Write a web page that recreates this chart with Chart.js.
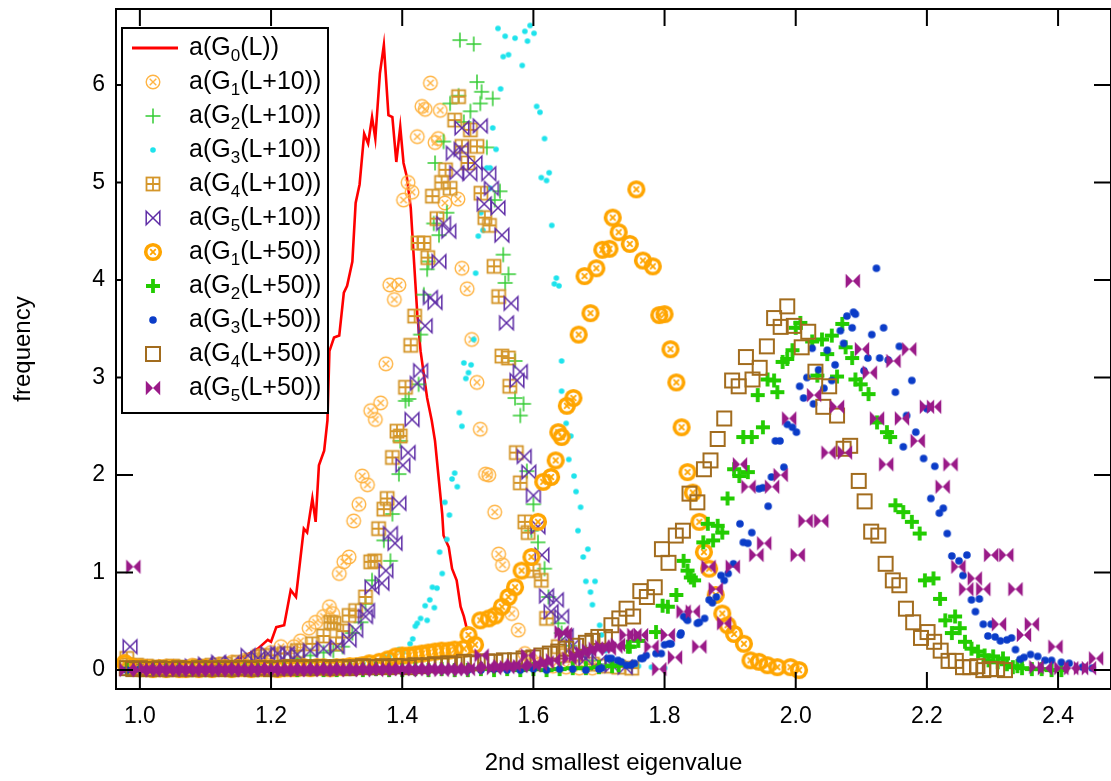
<!DOCTYPE html>
<html>
<head>
<meta charset="utf-8">
<title>2nd smallest eigenvalue</title>
<script src="https://cdn.jsdelivr.net/npm/chart.js@4/dist/chart.umd.min.js"></script>
<style>
  html, body { margin: 0; padding: 0; background: #fff; overflow: hidden; }
  #wrap { width: 1111px; height: 781px; overflow: hidden; position: relative; }
  canvas { display: block; }
</style>
</head>
<body>
<div id="wrap"><canvas id="eigenChart" width="1120" height="781"></canvas></div>
<script>
const FONT = "'Liberation Sans', Arial, sans-serif";

const xTicks = [1.0, 1.2, 1.4, 1.6, 1.8, 2.0, 2.2, 2.4];
const yTicks = [0, 1, 2, 3, 4, 5, 6];

// a(G0(L)) - drawn as a line
const g0L = [[0.975,0.02],[1.0,0.01],[1.03,0.02],[1.06,0.01],[1.09,0.03],[1.12,0.05],[1.14,0.08],[1.159,0.14],[1.18,0.22],[1.195,0.31],[1.2,0.29],[1.208,0.44],[1.22,0.46],[1.23,0.82],[1.238,0.75],[1.25,1.45],[1.255,1.41],[1.263,1.76],[1.268,1.52],[1.273,2.10],[1.281,2.25],[1.286,2.56],[1.289,3.27],[1.296,3.41],[1.304,3.43],[1.311,3.87],[1.316,3.94],[1.324,4.19],[1.329,4.79],[1.335,4.98],[1.342,5.50],[1.348,5.40],[1.354,5.67],[1.359,5.45],[1.366,6.12],[1.372,6.41],[1.379,5.69],[1.385,5.67],[1.391,5.21],[1.397,5.57],[1.402,5.20],[1.407,5.06],[1.413,4.74],[1.418,4.19],[1.423,3.65],[1.428,3.27],[1.438,2.79],[1.445,2.56],[1.45,2.35],[1.456,1.94],[1.461,1.60],[1.463,1.38],[1.471,1.26],[1.476,1.04],[1.483,0.92],[1.489,0.65],[1.494,0.55],[1.499,0.41]];

// L+10 histograms
const g1L10 = [[0.977,0.09],[0.99,0.05],[1.0,0.04],[1.02,0.03],[1.04,0.04],[1.06,0.03],[1.08,0.05],[1.1,0.04],[1.12,0.06],[1.14,0.08],[1.16,0.1],[1.175,0.12],[1.185,0.15],[1.2,0.18],[1.215,0.24],[1.235,0.24],[1.245,0.3],[1.258,0.43],[1.268,0.49],[1.28,0.55],[1.289,0.65],[1.294,0.58],[1.304,0.99],[1.311,1.11],[1.319,1.16],[1.326,1.53],[1.334,1.70],[1.339,1.99],[1.347,1.90],[1.352,2.66],[1.359,2.57],[1.367,2.74],[1.375,3.14],[1.381,3.95],[1.388,3.80],[1.395,3.95],[1.402,4.82],[1.409,5.00],[1.415,4.90],[1.423,5.47],[1.430,5.78],[1.435,5.75],[1.443,6.02],[1.450,5.41],[1.455,5.45],[1.458,5.74],[1.465,4.79],[1.485,4.83],[1.491,4.12],[1.499,3.91],[1.506,3.39],[1.514,2.95],[1.519,2.47],[1.527,2.01],[1.532,2.0],[1.541,1.62],[1.547,1.19],[1.553,1.08],[1.567,0.58],[1.577,0.41],[1.587,0.17],[1.597,0.1],[1.61,0.06],[1.63,0.04],[1.65,0.03],[1.67,0.02],[1.69,0.02]];

const g2L10 = [[0.98,0.03],[1.0,0.02],[1.02,0.01],[1.04,0.02],[1.06,0.02],[1.08,0.03],[1.1,0.02],[1.12,0.03],[1.14,0.04],[1.16,0.05],[1.18,0.06],[1.2,0.08],[1.22,0.1],[1.24,0.12],[1.26,0.15],[1.28,0.18],[1.295,0.2],[1.309,0.24],[1.324,0.38],[1.337,0.49],[1.344,0.68],[1.354,0.92],[1.372,1.33],[1.382,1.12],[1.385,1.60],[1.395,2.01],[1.397,2.35],[1.405,2.76],[1.410,2.78],[1.425,2.93],[1.428,3.44],[1.433,3.85],[1.438,4.11],[1.440,4.19],[1.448,4.58],[1.450,5.20],[1.456,4.46],[1.463,5.42],[1.468,4.69],[1.473,5.81],[1.486,5.89],[1.488,6.46],[1.494,5.62],[1.504,5.73],[1.509,6.42],[1.514,6.03],[1.519,5.81],[1.521,5.93],[1.529,5.36],[1.538,5.86],[1.541,4.82],[1.549,4.91],[1.554,4.26],[1.557,3.97],[1.562,4.06],[1.572,3.17],[1.572,2.79],[1.580,2.61],[1.585,2.73],[1.590,2.04],[1.597,1.43],[1.600,1.70],[1.607,1.31],[1.617,1.04],[1.623,0.75],[1.638,0.48],[1.643,0.38],[1.655,0.25],[1.67,0.15],[1.69,0.1],[1.71,0.06],[1.73,0.04],[1.75,0.03]];

const g3L10 = [[0.98,0.01],[1.0,0.0],[1.02,0.01],[1.04,0.0],[1.06,0.01],[1.08,0.0],[1.1,0.01],[1.12,0.0],[1.14,0.01],[1.16,0.01],[1.18,0.0],[1.2,0.01],[1.22,0.02],[1.24,0.01],[1.26,0.02],[1.28,0.03],[1.3,0.03],[1.32,0.05],[1.34,0.07],[1.355,0.1],[1.372,0.14],[1.380,0.14],[1.395,0.21],[1.401,0.18],[1.412,0.27],[1.416,0.32],[1.420,0.45],[1.423,0.48],[1.428,0.53],[1.435,0.66],[1.438,0.51],[1.442,0.72],[1.446,0.85],[1.449,0.64],[1.453,0.84],[1.457,1.21],[1.461,0.99],[1.465,1.72],[1.468,1.34],[1.472,1.59],[1.476,1.96],[1.480,2.02],[1.484,1.88],[1.487,2.64],[1.491,2.50],[1.494,3.15],[1.497,2.99],[1.501,3.05],[1.505,3.13],[1.509,3.39],[1.512,4.07],[1.516,4.45],[1.520,4.69],[1.523,4.51],[1.529,5.15],[1.534,5.15],[1.534,4.94],[1.538,5.56],[1.543,5.34],[1.546,6.58],[1.550,5.96],[1.554,6.29],[1.557,6.50],[1.562,6.31],[1.572,6.48],[1.583,6.20],[1.587,6.55],[1.591,6.45],[1.595,6.61],[1.601,6.53],[1.605,5.78],[1.610,5.72],[1.612,5.05],[1.617,5.45],[1.620,5.02],[1.624,5.10],[1.628,4.56],[1.632,3.96],[1.635,4.02],[1.639,3.94],[1.643,3.17],[1.643,2.86],[1.650,2.53],[1.654,2.16],[1.657,2.40],[1.662,1.99],[1.665,1.83],[1.668,1.43],[1.672,1.67],[1.676,1.16],[1.680,0.91],[1.683,1.24],[1.687,0.80],[1.690,0.67],[1.694,0.91],[1.701,0.46],[1.704,0.36],[1.71,0.2],[1.72,0.12],[1.73,0.08],[1.74,0.06],[1.75,0.05],[1.76,0.04],[1.78,0.03],[1.8,0.02]];

const g4L10 = [[0.98,0.12],[0.995,0.05],[1.01,0.04],[1.03,0.03],[1.05,0.04],[1.07,0.03],[1.09,0.04],[1.11,0.05],[1.13,0.06],[1.15,0.08],[1.17,0.1],[1.182,0.14],[1.2,0.15],[1.22,0.17],[1.24,0.2],[1.263,0.27],[1.28,0.35],[1.291,0.49],[1.296,0.48],[1.299,0.27],[1.31,0.4],[1.319,0.56],[1.329,0.61],[1.344,0.75],[1.352,1.11],[1.358,1.12],[1.364,1.45],[1.372,1.65],[1.377,1.76],[1.385,2.18],[1.392,2.45],[1.397,2.40],[1.405,2.90],[1.413,3.33],[1.419,3.63],[1.424,4.38],[1.433,4.38],[1.439,4.23],[1.446,4.86],[1.453,4.63],[1.460,5.00],[1.466,5.13],[1.473,4.94],[1.480,5.64],[1.486,5.88],[1.491,5.37],[1.500,5.20],[1.504,5.54],[1.514,5.37],[1.520,4.89],[1.526,4.64],[1.533,4.56],[1.540,4.14],[1.547,3.83],[1.552,3.22],[1.562,3.20],[1.564,2.91],[1.574,2.23],[1.580,1.92],[1.587,1.52],[1.592,1.41],[1.600,1.02],[1.612,0.92],[1.620,0.53],[1.638,0.24],[1.65,0.15],[1.67,0.1],[1.69,0.06],[1.71,0.04],[1.73,0.03],[1.75,0.02]];

const g5L10 = [[0.985,0.24],[1.0,0.03],[1.02,0.02],[1.04,0.03],[1.06,0.02],[1.08,0.04],[1.1,0.06],[1.12,0.08],[1.14,0.07],[1.165,0.15],[1.18,0.12],[1.195,0.17],[1.21,0.17],[1.225,0.17],[1.24,0.16],[1.26,0.2],[1.28,0.22],[1.301,0.24],[1.319,0.31],[1.329,0.41],[1.344,0.55],[1.347,0.61],[1.354,0.85],[1.369,0.89],[1.375,1.02],[1.382,1.40],[1.389,1.30],[1.395,1.71],[1.401,2.10],[1.409,2.23],[1.415,2.57],[1.423,2.94],[1.428,3.07],[1.435,3.53],[1.443,3.82],[1.450,3.77],[1.456,4.19],[1.463,4.58],[1.471,4.50],[1.478,5.30],[1.483,5.10],[1.490,5.34],[1.491,5.56],[1.503,5.09],[1.511,5.20],[1.519,5.58],[1.525,4.78],[1.532,5.09],[1.536,4.94],[1.546,4.74],[1.552,4.46],[1.559,3.56],[1.566,3.76],[1.575,2.97],[1.580,3.06],[1.586,2.19],[1.593,2.03],[1.600,1.79],[1.607,1.47],[1.613,1.18],[1.620,0.76],[1.627,0.6],[1.635,0.72],[1.643,0.55],[1.65,0.35],[1.66,0.25],[1.67,0.18],[1.68,0.12],[1.7,0.08],[1.72,0.05],[1.74,0.03]];

// L+50 histograms
const g1L50 = [[0.977,0.07],[0.99,0.03],[1.0,0.02],[1.01,0.02],[1.02,0.01],[1.03,0.02],[1.04,0.01],[1.05,0.02],[1.06,0.01],[1.07,0.01],[1.08,0.02],[1.09,0.01],[1.1,0.02],[1.11,0.01],[1.12,0.02],[1.13,0.02],[1.14,0.01],[1.15,0.02],[1.16,0.02],[1.17,0.01],[1.18,0.02],[1.19,0.02],[1.2,0.02],[1.21,0.01],[1.22,0.02],[1.23,0.02],[1.24,0.02],[1.25,0.03],[1.26,0.02],[1.27,0.03],[1.28,0.03],[1.29,0.02],[1.3,0.03],[1.31,0.03],[1.32,0.04],[1.33,0.04],[1.339,0.05],[1.35,0.07],[1.365,0.085],[1.378,0.11],[1.39,0.14],[1.40,0.15],[1.41,0.15],[1.42,0.16],[1.43,0.17],[1.44,0.18],[1.45,0.19],[1.46,0.2],[1.471,0.20],[1.48,0.21],[1.494,0.22],[1.501,0.36],[1.511,0.26],[1.519,0.51],[1.532,0.53],[1.542,0.56],[1.552,0.65],[1.562,0.75],[1.572,0.85],[1.582,1.02],[1.597,1.16],[1.607,1.52],[1.615,1.93],[1.627,1.98],[1.634,2.15],[1.638,2.44],[1.643,2.39],[1.651,2.71],[1.661,2.79],[1.669,3.44],[1.678,4.04],[1.687,3.66],[1.696,4.12],[1.705,4.31],[1.716,4.32],[1.721,4.64],[1.730,4.49],[1.747,4.37],[1.757,4.93],[1.767,4.20],[1.782,4.14],[1.792,3.64],[1.800,3.65],[1.809,3.29],[1.818,2.95],[1.826,2.49],[1.835,2.03],[1.843,1.82],[1.853,1.52],[1.860,1.21],[1.868,1.04],[1.878,0.77],[1.888,0.58],[1.896,0.46],[1.906,0.37],[1.921,0.27],[1.931,0.10],[1.944,0.085],[1.957,0.05],[1.972,0.03],[1.992,0.03],[2.005,0.0]];

const g2L50 = [[0.98,0.01],[1.0,0.0],[1.02,0.01],[1.04,0.0],[1.06,0.01],[1.08,0.0],[1.1,0.0],[1.12,0.01],[1.14,0.0],[1.16,0.01],[1.18,0.0],[1.2,0.0],[1.22,0.01],[1.24,0.0],[1.26,0.01],[1.28,0.0],[1.3,0.0],[1.32,0.01],[1.34,0.0],[1.36,0.01],[1.38,0.0],[1.4,0.0],[1.42,0.01],[1.44,0.0],[1.46,0.01],[1.48,0.0],[1.5,0.0],[1.52,0.01],[1.54,0.0],[1.56,0.01],[1.58,0.0],[1.6,0.01],[1.62,0.0],[1.64,0.01],[1.66,0.02],[1.68,0.02],[1.7,0.03],[1.72,0.04],[1.73,0.05],[1.744,0.24],[1.747,0.24],[1.76,0.3],[1.787,0.39],[1.797,0.66],[1.805,0.65],[1.818,0.77],[1.829,1.12],[1.835,1.02],[1.840,0.95],[1.845,0.92],[1.859,1.31],[1.866,1.50],[1.874,1.33],[1.881,1.48],[1.888,1.41],[1.896,1.76],[1.906,2.06],[1.914,1.99],[1.920,2.39],[1.927,2.03],[1.933,2.39],[1.942,2.82],[1.950,2.49],[1.957,2.98],[1.967,2.97],[1.972,2.85],[1.980,3.16],[1.987,3.19],[1.995,3.28],[2.000,3.51],[2.007,3.56],[2.025,3.37],[2.033,3.02],[2.040,3.39],[2.048,3.24],[2.055,3.43],[2.063,3.01],[2.071,3.55],[2.076,3.31],[2.086,3.20],[2.091,2.98],[2.099,2.93],[2.111,2.83],[2.124,2.54],[2.139,2.44],[2.144,2.39],[2.152,1.69],[2.164,1.62],[2.177,1.52],[2.189,1.40],[2.197,0.92],[2.210,0.94],[2.220,0.73],[2.228,0.51],[2.238,0.38],[2.243,0.55],[2.250,0.43],[2.258,0.29],[2.268,0.22],[2.278,0.19],[2.288,0.15],[2.294,0.1],[2.301,0.14],[2.308,0.08],[2.316,0.12],[2.322,0.06],[2.331,0.03],[2.338,0.04],[2.345,0.02],[2.36,0.01],[2.375,0.01],[2.39,0.0],[2.405,0.0]];

const g3L50 = [[0.98,0.0],[1.0,0.01],[1.02,0.0],[1.04,0.0],[1.06,0.01],[1.08,0.0],[1.1,0.0],[1.12,0.01],[1.14,0.0],[1.16,0.0],[1.18,0.01],[1.2,0.0],[1.22,0.0],[1.24,0.01],[1.26,0.0],[1.28,0.0],[1.3,0.01],[1.32,0.0],[1.34,0.0],[1.36,0.01],[1.38,0.0],[1.4,0.0],[1.42,0.01],[1.44,0.0],[1.46,0.0],[1.48,0.01],[1.5,0.0],[1.52,0.0],[1.54,0.01],[1.56,0.0],[1.58,0.0],[1.6,0.01],[1.62,0.0],[1.64,0.01],[1.66,0.01],[1.68,0.0],[1.7,0.01],[1.704,0.02],[1.714,0.12],[1.719,0.12],[1.729,0.10],[1.734,0.085],[1.742,0.05],[1.749,0.05],[1.754,0.07],[1.764,0.12],[1.767,0.12],[1.772,0.15],[1.787,0.17],[1.795,0.17],[1.800,0.26],[1.807,0.27],[1.810,0.27],[1.824,0.36],[1.825,0.38],[1.829,0.55],[1.833,0.53],[1.835,0.51],[1.850,0.48],[1.853,0.49],[1.861,0.53],[1.868,0.72],[1.873,0.69],[1.879,0.75],[1.886,0.97],[1.891,0.92],[1.897,0.99],[1.905,1.09],[1.915,1.50],[1.920,1.31],[1.927,1.30],[1.933,1.41],[1.944,1.86],[1.950,1.87],[1.958,1.68],[1.963,1.98],[1.969,2.35],[1.976,2.35],[1.982,2.08],[1.987,2.52],[1.995,2.49],[2.001,2.44],[2.006,2.91],[2.012,2.79],[2.017,3.00],[2.025,3.30],[2.027,2.73],[2.035,3.08],[2.043,2.89],[2.048,3.28],[2.055,2.97],[2.060,3.13],[2.068,3.48],[2.073,3.35],[2.078,3.63],[2.086,3.51],[2.088,3.67],[2.091,3.65],[2.104,3.07],[2.110,3.20],[2.116,3.44],[2.123,4.12],[2.128,3.20],[2.134,3.51],[2.141,3.18],[2.152,2.85],[2.158,3.32],[2.164,2.29],[2.169,2.61],[2.177,2.97],[2.183,2.44],[2.195,2.17],[2.200,2.68],[2.206,1.76],[2.212,2.09],[2.219,1.61],[2.225,1.66],[2.231,1.40],[2.238,1.17],[2.249,1.12],[2.255,0.97],[2.261,1.18],[2.268,0.72],[2.274,0.60],[2.280,0.73],[2.286,0.47],[2.293,0.35],[2.298,0.47],[2.304,0.34],[2.312,0.30],[2.322,0.31],[2.329,0.33],[2.335,0.21],[2.342,0.11],[2.348,0.13],[2.358,0.16],[2.369,0.14],[2.380,0.10],[2.390,0.10],[2.405,0.08],[2.417,0.07],[2.437,0.03],[2.452,0.02]];

const g4L50 = [[0.98,0.02],[0.99,0.01],[1.0,0.02],[1.01,0.01],[1.02,0.01],[1.03,0.02],[1.04,0.01],[1.05,0.01],[1.06,0.02],[1.07,0.01],[1.08,0.01],[1.09,0.02],[1.1,0.01],[1.11,0.02],[1.12,0.01],[1.13,0.02],[1.14,0.01],[1.15,0.02],[1.16,0.02],[1.17,0.01],[1.18,0.02],[1.19,0.02],[1.2,0.01],[1.21,0.02],[1.22,0.02],[1.23,0.03],[1.24,0.02],[1.25,0.03],[1.26,0.02],[1.27,0.03],[1.28,0.03],[1.29,0.02],[1.3,0.03],[1.31,0.03],[1.32,0.02],[1.33,0.03],[1.34,0.04],[1.35,0.03],[1.36,0.03],[1.37,0.04],[1.38,0.03],[1.39,0.04],[1.4,0.04],[1.41,0.03],[1.42,0.05],[1.43,0.04],[1.44,0.05],[1.45,0.06],[1.46,0.05],[1.47,0.07],[1.48,0.06],[1.494,0.085],[1.505,0.07],[1.515,0.08],[1.53,0.09],[1.542,0.085],[1.555,0.1],[1.572,0.10],[1.585,0.12],[1.6,0.13],[1.612,0.15],[1.625,0.17],[1.638,0.19],[1.65,0.22],[1.665,0.25],[1.68,0.28],[1.69,0.3],[1.699,0.34],[1.709,0.34],[1.719,0.46],[1.731,0.53],[1.742,0.63],[1.752,0.55],[1.763,0.81],[1.773,0.75],[1.785,0.85],[1.796,1.24],[1.806,1.10],[1.817,1.38],[1.828,1.43],[1.838,1.81],[1.850,1.72],[1.860,2.06],[1.870,2.15],[1.881,2.37],[1.891,2.58],[1.903,2.97],[1.913,2.91],[1.924,3.21],[1.934,2.98],[1.945,3.10],[1.956,3.32],[1.967,3.61],[1.977,3.52],[1.987,3.73],[1.997,3.53],[2.009,3.31],[2.019,3.47],[2.030,3.06],[2.042,2.70],[2.051,2.91],[2.063,2.61],[2.073,2.27],[2.083,2.30],[2.096,1.94],[2.105,1.73],[2.115,1.42],[2.126,1.38],[2.137,1.09],[2.148,0.92],[2.158,0.87],[2.168,0.63],[2.179,0.49],[2.191,0.33],[2.201,0.39],[2.211,0.29],[2.221,0.20],[2.233,0.095],[2.244,0.095],[2.255,0.03],[2.266,0.03],[2.277,0.04],[2.286,0.0],[2.296,0.01],[2.307,0.01],[2.319,0.0]];

const g5L50 = [[0.98,0.0],[0.99,1.06],[1.0,0.0],[1.01,0.01],[1.02,0.0],[1.03,0.0],[1.04,0.01],[1.05,0.0],[1.06,0.0],[1.07,0.01],[1.08,0.0],[1.09,0.0],[1.1,0.01],[1.11,0.0],[1.12,0.0],[1.13,0.01],[1.14,0.0],[1.15,0.01],[1.16,0.0],[1.17,0.0],[1.18,0.01],[1.19,0.0],[1.2,0.01],[1.21,0.0],[1.22,0.0],[1.23,0.01],[1.24,0.0],[1.25,0.01],[1.26,0.0],[1.27,0.01],[1.28,0.0],[1.29,0.01],[1.3,0.0],[1.31,0.01],[1.32,0.0],[1.33,0.01],[1.34,0.0],[1.35,0.01],[1.36,0.0],[1.37,0.01],[1.38,0.01],[1.39,0.0],[1.4,0.01],[1.41,0.0],[1.42,0.01],[1.43,0.0],[1.44,0.01],[1.45,0.01],[1.46,0.0],[1.47,0.01],[1.48,0.01],[1.49,0.0],[1.5,0.01],[1.51,0.02],[1.521,0.15],[1.53,0.03],[1.54,0.02],[1.55,0.04],[1.56,0.03],[1.57,0.05],[1.58,0.04],[1.592,0.15],[1.60,0.05],[1.61,0.06],[1.62,0.08],[1.63,0.1],[1.643,0.39],[1.648,0.37],[1.655,0.12],[1.665,0.15],[1.675,0.18],[1.685,0.2],[1.695,0.22],[1.705,0.24],[1.715,0.22],[1.725,0.24],[1.729,0.26],[1.742,0.36],[1.754,0.36],[1.764,0.36],[1.780,0.24],[1.792,0.01],[1.805,0.36],[1.816,0.13],[1.829,0.60],[1.843,0.60],[1.853,0.24],[1.867,1.06],[1.878,0.83],[1.891,0.48],[1.904,1.06],[1.915,2.11],[1.928,1.88],[1.940,1.18],[1.952,1.30],[1.964,1.88],[1.977,2.00],[1.990,2.58],[2.003,1.18],[2.015,1.53],[2.028,2.82],[2.039,1.53],[2.050,2.23],[2.063,2.70],[2.075,2.23],[2.087,3.99],[2.101,3.29],[2.113,3.05],[2.124,2.58],[2.138,2.11],[2.149,3.17],[2.162,2.58],[2.173,3.29],[2.186,2.35],[2.200,2.70],[2.211,2.70],[2.224,1.88],[2.236,2.11],[2.248,1.06],[2.260,0.83],[2.273,0.94],[2.286,0.83],[2.298,1.18],[2.310,0.47],[2.321,1.18],[2.335,0.83],[2.348,0.36],[2.360,0.47],[2.367,0.03],[2.38,0.02],[2.396,0.24],[2.405,0.02],[2.42,0.02],[2.435,0.02],[2.447,0.02],[2.458,0.12]];

// marker images, drawn once and handed to Chart.js as pointStyle
function marker(draw) {
  const c = document.createElement('canvas');
  c.width = 24; c.height = 24;
  const g = c.getContext('2d');
  g.translate(12, 12);
  draw(g);
  return c;
}
function crossLines(g, r) {
  g.beginPath();
  g.moveTo(-r, -r); g.lineTo(r, r);
  g.moveTo(r, -r); g.lineTo(-r, r);
  g.stroke();
}
function plusLines(g, r) {
  g.beginPath();
  g.moveTo(-r, 0); g.lineTo(r, 0);
  g.moveTo(0, -r); g.lineTo(0, r);
  g.stroke();
}
function bowtiePath(g, s) {
  g.beginPath();
  g.moveTo(-s, -s); g.lineTo(s, s); g.lineTo(s, -s); g.lineTo(-s, s);
  g.closePath();
}

const circleX = marker(g => {
  g.strokeStyle = '#ffb444'; g.lineWidth = 1.4;
  g.beginPath(); g.arc(0, 0, 6.8, 0, Math.PI * 2); g.stroke();
  crossLines(g, 3.3);
});
const thinPlus = marker(g => {
  g.strokeStyle = '#33cc33'; g.lineWidth = 1.5;
  plusLines(g, 7.5);
});
const cyanDot = marker(g => {
  g.fillStyle = '#1ee3ec';
  g.beginPath(); g.arc(0, 0, 2.8, 0, Math.PI * 2); g.fill();
});
const squarePlus = marker(g => {
  g.strokeStyle = '#d4962a'; g.lineWidth = 1.8;
  g.strokeRect(-6.5, -6.5, 13, 13);
  plusLines(g, 6.5);
});
const openBowtie = marker(g => {
  g.strokeStyle = '#5e2ca6'; g.lineWidth = 1.5;
  bowtiePath(g, 6.8); g.stroke();
});
const thickRing = marker(g => {
  g.strokeStyle = '#ffa500'; g.lineWidth = 3.6;
  g.beginPath(); g.arc(0, 0, 7.3, 0, Math.PI * 2); g.stroke();
  g.lineWidth = 1.8;
  crossLines(g, 2.8);
});
const thickPlus = marker(g => {
  g.strokeStyle = '#22cc00'; g.lineWidth = 3.8;
  plusLines(g, 7);
});
const blueDot = marker(g => {
  g.fillStyle = '#0b3cc8';
  g.beginPath(); g.arc(0, 0, 3.8, 0, Math.PI * 2); g.fill();
});
const openSquare = marker(g => {
  g.strokeStyle = '#a26c1e'; g.lineWidth = 2;
  g.strokeRect(-7, -7, 14, 14);
});
const filledBowtie = marker(g => {
  g.fillStyle = '#9a1a88';
  bowtiePath(g, 7.2); g.fill();
});

const series = [
  { data: g0L,   sub: '0', arg: 'L',    color: '#ff0000' },
  { data: g1L10, sub: '1', arg: 'L+10', style: circleX },
  { data: g2L10, sub: '2', arg: 'L+10', style: thinPlus },
  { data: g3L10, sub: '3', arg: 'L+10', style: cyanDot },
  { data: g4L10, sub: '4', arg: 'L+10', style: squarePlus },
  { data: g5L10, sub: '5', arg: 'L+10', style: openBowtie },
  { data: g1L50, sub: '1', arg: 'L+50', style: thickRing },
  { data: g2L50, sub: '2', arg: 'L+50', style: thickPlus },
  { data: g3L50, sub: '3', arg: 'L+50', style: blueDot },
  { data: g4L50, sub: '4', arg: 'L+50', style: openSquare },
  { data: g5L50, sub: '5', arg: 'L+50', style: filledBowtie },
];

const datasets = series.map((s, i) => {
  const ds = {
    label: 'a(G' + s.sub + '(' + s.arg + '))',
    data: s.data.map(([x, y]) => ({ x, y })),
    order: series.length - i,
  };
  if (s.style) {
    ds.pointStyle = s.style;
    ds.pointRadius = 8;
    ds.pointHoverRadius = 8;
  } else {
    ds.showLine = true;
    ds.borderColor = s.color;
    ds.borderWidth = 2.6;
    ds.pointRadius = 0;
    ds.tension = 0;
  }
  return ds;
});

// keep the plot box fixed: no extra room for overhanging tick labels
function noLabelPadding(scale) {
  scale.paddingTop = 0;
  scale.paddingBottom = 0;
  scale.paddingLeft = 0;
  scale.paddingRight = 0;
}

// box round the plot with inward ticks on every side
const framePlugin = {
  id: 'frame',
  afterDatasetsDraw(chart) {
    const { ctx, chartArea: a, scales: { x, y } } = chart;
    ctx.save();
    ctx.strokeStyle = '#000';
    ctx.lineWidth = 2;
    ctx.strokeRect(a.left, a.top, a.right - a.left, a.bottom - a.top);
    ctx.beginPath();
    xTicks.forEach(v => {
      const px = x.getPixelForValue(v);
      ctx.moveTo(px, a.top); ctx.lineTo(px, a.top + 17);
      ctx.moveTo(px, a.bottom); ctx.lineTo(px, a.bottom - 17);
    });
    yTicks.forEach(v => {
      const py = y.getPixelForValue(v);
      ctx.moveTo(a.left, py); ctx.lineTo(a.left + 17, py);
      ctx.moveTo(a.right, py); ctx.lineTo(a.right - 17, py);
    });
    ctx.stroke();
    ctx.restore();
  }
};

// legend box with subscripted labels
const legendPlugin = {
  id: 'boxLegend',
  afterDraw(chart) {
    const c = chart.ctx;
    c.save();
    c.fillStyle = '#fff';
    c.fillRect(122, 28, 206, 385);
    c.strokeStyle = '#000';
    c.lineWidth = 2;
    c.strokeRect(122, 28, 206, 385);
    c.textBaseline = 'middle';
    c.textAlign = 'left';
    series.forEach((s, i) => {
      const cy = 48 + i * 34;
      if (s.style) {
        c.drawImage(s.style, 153 - s.style.width / 2, cy - s.style.height / 2);
      } else {
        c.strokeStyle = s.color;
        c.lineWidth = 3;
        c.beginPath(); c.moveTo(132, cy); c.lineTo(178, cy); c.stroke();
      }
      c.fillStyle = '#000';
      let tx = 189;
      c.font = '25px ' + FONT;
      c.fillText('a(G', tx, cy);
      tx += c.measureText('a(G').width;
      c.font = '17px ' + FONT;
      c.fillText(s.sub, tx, cy + 8);
      tx += c.measureText(s.sub).width;
      c.font = '25px ' + FONT;
      c.fillText('(' + s.arg + '))', tx, cy);
    });
    c.restore();
  }
};

new Chart(document.getElementById('eigenChart'), {
  type: 'scatter',
  data: { datasets },
  options: {
    responsive: false,
    animation: false,
    events: [],
    layout: { padding: { top: 7, right: 5, left: 0, bottom: 0 } },
    plugins: { legend: { display: false }, tooltip: { enabled: false } },
    scales: {
      x: {
        type: 'linear',
        min: 0.9636,
        max: 2.4807,
        afterBuildTicks: (scale) => { scale.ticks = xTicks.map(v => ({ value: v })); },
        afterFit: (scale) => { scale.height = 92; noLabelPadding(scale); },
        grid: { display: false, drawTicks: false },
        border: { display: false },
        ticks: {
          padding: 14,
          color: '#000',
          maxRotation: 0,
          font: { family: FONT, size: 23 },
          callback: (v) => Number(v).toFixed(1),
        },
        title: {
          display: true,
          text: '2nd smallest eigenvalue',
          color: '#000',
          font: { family: FONT, size: 24 },
          padding: { top: 0, bottom: 3 },
        },
      },
      y: {
        type: 'linear',
        min: -0.194,
        max: 6.779,
        afterBuildTicks: (scale) => { scale.ticks = yTicks.map(v => ({ value: v })); },
        afterFit: (scale) => { scale.width = 116; noLabelPadding(scale); },
        grid: { display: false, drawTicks: false },
        border: { display: false },
        ticks: {
          padding: 11,
          color: '#000',
          font: { family: FONT, size: 23 },
          callback: (v) => String(v),
        },
        title: {
          display: true,
          text: 'frequency',
          color: '#000',
          font: { family: FONT, size: 24 },
          padding: { top: 9, bottom: 0 },
        },
      },
    },
  },
  plugins: [framePlugin, legendPlugin],
});
</script>
</body>
</html>
